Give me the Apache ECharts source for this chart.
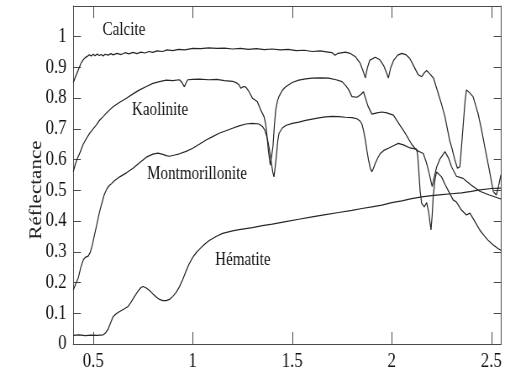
<!DOCTYPE html>
<html>
<head>
<meta charset="utf-8">
<script src="https://cdn.jsdelivr.net/npm/echarts@6/dist/echarts.min.js"></script>
<style>
  html, body { margin: 0; padding: 0; background: #fff; overflow: hidden; }
  /* drawn wide, then squeezed horizontally to the page width */
  #chart { width: 607px; height: 376px; transform: scaleX(0.8402); transform-origin: 0 0; }
</style>
</head>
<body>
<div id="chart"></div>
<script>
// Spectral reflectance of four minerals, wavelength in micrometres
const xTicks = [0.5, 1, 1.5, 2, 2.5];
const yTicks = [0, 0.1, 0.2, 0.3, 0.4, 0.5, 0.6, 0.7, 0.8, 0.9, 1];

const calcite = [
  [0.400,0.850],[0.410,0.868],[0.420,0.884],[0.430,0.900],[0.440,0.915],[0.450,0.925],[0.460,0.932],
  [0.470,0.936],[0.480,0.941],[0.490,0.937],[0.500,0.943],[0.510,0.938],[0.520,0.944],[0.530,0.939],
  [0.540,0.942],[0.550,0.937],[0.560,0.943],[0.575,0.940],[0.590,0.945],[0.600,0.941],[0.620,0.946],
  [0.640,0.942],[0.660,0.948],[0.680,0.944],[0.700,0.949],[0.720,0.945],[0.740,0.950],[0.760,0.947],
  [0.780,0.952],[0.800,0.949],[0.820,0.954],[0.850,0.952],[0.870,0.957],[0.900,0.955],[0.930,0.959],
  [0.960,0.957],[1.000,0.962],[1.040,0.961],[1.080,0.964],[1.120,0.962],[1.160,0.963],[1.200,0.960],
  [1.240,0.962],[1.280,0.959],[1.320,0.961],[1.360,0.958],[1.400,0.960],[1.440,0.957],[1.480,0.959],
  [1.520,0.955],[1.560,0.956],[1.600,0.952],[1.640,0.954],[1.680,0.950],[1.700,0.948],[1.715,0.940],
  [1.730,0.946],[1.767,0.950],[1.790,0.946],[1.817,0.935],[1.840,0.915],[1.855,0.890],[1.867,0.866],
  [1.878,0.900],[1.890,0.924],[1.917,0.933],[1.940,0.925],[1.960,0.905],[1.975,0.880],[1.983,0.866],
  [1.995,0.900],[2.010,0.924],[2.030,0.940],[2.050,0.946],[2.070,0.942],[2.090,0.930],[2.110,0.905],
  [2.133,0.876],[2.150,0.870],[2.165,0.884],[2.175,0.890],[2.190,0.880],[2.210,0.865],[2.233,0.816],
  [2.250,0.780],[2.267,0.740],[2.290,0.664],[2.300,0.642],[2.317,0.599],[2.330,0.572],[2.342,0.577],
  [2.350,0.640],[2.358,0.707],[2.368,0.790],[2.375,0.827],[2.390,0.818],[2.408,0.805],[2.433,0.751],
  [2.450,0.700],[2.467,0.642],[2.490,0.566],[2.510,0.496],[2.525,0.485],[2.535,0.510],[2.548,0.550]
];

const kaolinite = [
  [0.400,0.560],[0.410,0.585],[0.420,0.603],[0.433,0.622],[0.450,0.650],[0.467,0.670],[0.483,0.686],
  [0.500,0.700],[0.517,0.714],[0.533,0.729],[0.550,0.740],[0.567,0.752],[0.583,0.762],[0.600,0.772],
  [0.633,0.787],[0.667,0.800],[0.700,0.814],[0.733,0.827],[0.767,0.838],[0.800,0.848],[0.833,0.854],
  [0.867,0.859],[0.900,0.857],[0.933,0.860],[0.945,0.852],[0.958,0.837],[0.968,0.852],[0.975,0.860],
  [1.000,0.861],[1.033,0.862],[1.080,0.860],[1.120,0.861],[1.160,0.857],[1.200,0.855],[1.220,0.850],
  [1.233,0.843],[1.242,0.832],[1.255,0.838],[1.267,0.836],[1.283,0.821],[1.300,0.800],[1.315,0.793],
  [1.325,0.788],[1.342,0.761],[1.358,0.740],[1.365,0.720],[1.372,0.686],[1.380,0.630],[1.386,0.600],
  [1.390,0.582],[1.396,0.610],[1.403,0.642],[1.410,0.710],[1.417,0.761],[1.425,0.790],[1.433,0.805],
  [1.450,0.826],[1.467,0.837],[1.500,0.851],[1.533,0.859],[1.567,0.863],[1.600,0.865],[1.640,0.866],
  [1.683,0.865],[1.720,0.860],[1.750,0.854],[1.770,0.840],[1.783,0.828],[1.800,0.805],[1.825,0.803],
  [1.845,0.812],[1.858,0.821],[1.868,0.800],[1.880,0.775],[1.900,0.748],[1.925,0.752],[1.950,0.755],
  [1.975,0.752],[2.008,0.745],[2.033,0.720],[2.067,0.686],[2.100,0.650],[2.125,0.630],[2.145,0.624],
  [2.158,0.620],[2.175,0.588],[2.192,0.544],[2.203,0.512],[2.212,0.540],[2.225,0.575],[2.240,0.600],
  [2.267,0.626],[2.285,0.605],[2.300,0.577],[2.325,0.546],[2.358,0.539],[2.380,0.527],[2.400,0.517],
  [2.442,0.497],[2.490,0.485],[2.548,0.472]
];

const montmorillonite = [
  [0.400,0.176],[0.412,0.195],[0.425,0.215],[0.438,0.250],[0.450,0.273],[0.460,0.282],[0.475,0.286],
  [0.485,0.298],[0.495,0.320],[0.505,0.350],[0.517,0.385],[0.530,0.425],[0.542,0.455],[0.555,0.485],
  [0.567,0.503],[0.580,0.515],[0.592,0.522],[0.608,0.532],[0.633,0.544],[0.667,0.557],[0.700,0.572],
  [0.733,0.590],[0.767,0.608],[0.800,0.618],[0.825,0.621],[0.850,0.617],[0.867,0.613],[0.883,0.611],
  [0.910,0.615],[0.933,0.619],[0.967,0.627],[1.000,0.637],[1.033,0.650],[1.067,0.664],[1.100,0.675],
  [1.133,0.686],[1.167,0.694],[1.200,0.702],[1.233,0.710],[1.267,0.716],[1.300,0.718],[1.333,0.716],
  [1.350,0.708],[1.362,0.696],[1.375,0.668],[1.385,0.635],[1.395,0.590],[1.402,0.560],[1.408,0.544],
  [1.414,0.575],[1.420,0.610],[1.427,0.660],[1.433,0.685],[1.450,0.703],[1.467,0.711],[1.500,0.718],
  [1.533,0.722],[1.567,0.728],[1.600,0.732],[1.633,0.736],[1.667,0.739],[1.700,0.741],[1.733,0.740],
  [1.767,0.738],[1.800,0.737],[1.825,0.733],[1.840,0.726],[1.850,0.716],[1.858,0.695],[1.867,0.664],
  [1.875,0.630],[1.883,0.599],[1.892,0.572],[1.900,0.561],[1.908,0.572],[1.917,0.588],[1.930,0.606],
  [1.942,0.620],[1.960,0.630],[1.983,0.637],[2.008,0.645],[2.033,0.653],[2.058,0.648],[2.092,0.638],
  [2.115,0.635],[2.125,0.634],[2.130,0.615],[2.136,0.560],[2.142,0.500],[2.150,0.458],[2.163,0.446],
  [2.175,0.460],[2.185,0.430],[2.197,0.371],[2.203,0.420],[2.208,0.479],[2.217,0.535],[2.225,0.560],
  [2.250,0.544],[2.267,0.520],[2.283,0.500],[2.308,0.469],[2.325,0.462],[2.350,0.436],[2.375,0.420],
  [2.392,0.426],[2.408,0.409],[2.425,0.390],[2.442,0.371],[2.465,0.352],[2.483,0.338],[2.510,0.322],
  [2.533,0.311],[2.548,0.305]
];

const hematite = [
  [0.400,0.028],[0.430,0.030],[0.460,0.027],[0.490,0.029],[0.520,0.028],[0.550,0.030],[0.562,0.036],
  [0.575,0.048],[0.588,0.070],[0.600,0.089],[0.617,0.099],[0.633,0.106],[0.655,0.114],[0.675,0.122],
  [0.692,0.138],[0.708,0.155],[0.725,0.172],[0.740,0.184],[0.750,0.187],[0.765,0.183],[0.783,0.174],
  [0.800,0.163],[0.817,0.153],[0.833,0.145],[0.850,0.141],[0.867,0.141],[0.883,0.145],[0.900,0.155],
  [0.917,0.168],[0.933,0.186],[0.950,0.210],[0.967,0.238],[0.983,0.262],[1.000,0.282],[1.017,0.297],
  [1.033,0.308],[1.058,0.324],[1.083,0.337],[1.117,0.350],[1.150,0.360],[1.200,0.368],[1.233,0.372],
  [1.300,0.379],[1.350,0.385],[1.400,0.390],[1.467,0.398],[1.533,0.406],[1.600,0.414],[1.667,0.421],
  [1.733,0.428],[1.800,0.435],[1.850,0.441],[1.900,0.446],[1.950,0.452],[2.000,0.460],[2.050,0.466],
  [2.100,0.473],[2.150,0.479],[2.200,0.483],[2.250,0.486],[2.300,0.489],[2.350,0.492],[2.400,0.497],
  [2.433,0.501],[2.500,0.506],[2.548,0.507]
];

const curveNames = ['Calcite', 'Kaolinite', 'Montmorillonite', 'Hématite'];
const curves = [calcite, kaolinite, montmorillonite, hematite];

const FONT = '"Liberation Serif", "DejaVu Serif", serif';
const frameColor = '#4a4a4a';
const lineColor = '#262626';

function axisPair(kind, min, max, ticks, tickLen) {
  const base = {
    type: 'value', min: min, max: max,
    axisLine: { show: true, onZero: false, lineStyle: { color: frameColor, width: 1 } },
    axisTick: { show: true, inside: true, length: tickLen, customValues: ticks,
                lineStyle: { color: frameColor, width: 1 } },
    splitLine: { show: false }
  };
  const main = Object.assign({}, base, {
    position: kind === 'x' ? 'bottom' : 'left',
    axisLabel: { show: true, customValues: ticks, margin: 8, fontFamily: FONT, fontSize: 20, color: '#111',
                 formatter: v => String(Math.round(v * 10) / 10) }
  });
  const mirror = Object.assign({}, base, {
    position: kind === 'x' ? 'top' : 'right',
    axisLabel: { show: false }
  });
  return [main, mirror];
}

const chart = echarts.init(document.getElementById('chart'), null, { renderer: 'canvas' });

chart.setOption({
  animation: false,
  backgroundColor: '#fff',
  grid: { left: 87.2, right: 10.4, top: 6, bottom: 32 },
  xAxis: axisPair('x', 0.4, 2.55, xTicks, 12),
  yAxis: axisPair('y', 0, 1.1, yTicks, 9),
  series: curves.map((d, i) => ({
    name: curveNames[i],
    type: 'line',
    data: d,
    xAxisIndex: 0, yAxisIndex: 0,
    symbol: 'none',
    smooth: false,
    lineStyle: { color: lineColor, width: 1.2 }
  })),
  graphic: [
    { type: 'text', left: 122, top: 21, style: { text: curveNames[0], font: '18px ' + FONT, fill: '#111' } },
    { type: 'text', left: 157, top: 101, style: { text: curveNames[1], font: '18px ' + FONT, fill: '#111' } },
    { type: 'text', left: 175, top: 165, style: { text: curveNames[2], font: '18px ' + FONT, fill: '#111' } },
    { type: 'text', left: 256, top: 251, style: { text: curveNames[3], font: '18px ' + FONT, fill: '#111' } },
    { type: 'text', x: 43, y: 190, rotation: Math.PI / 2,
      style: { text: 'Réflectance', font: '21px ' + FONT, fill: '#222', align: 'center', verticalAlign: 'middle' } }
  ]
});
</script>
</body>
</html>
